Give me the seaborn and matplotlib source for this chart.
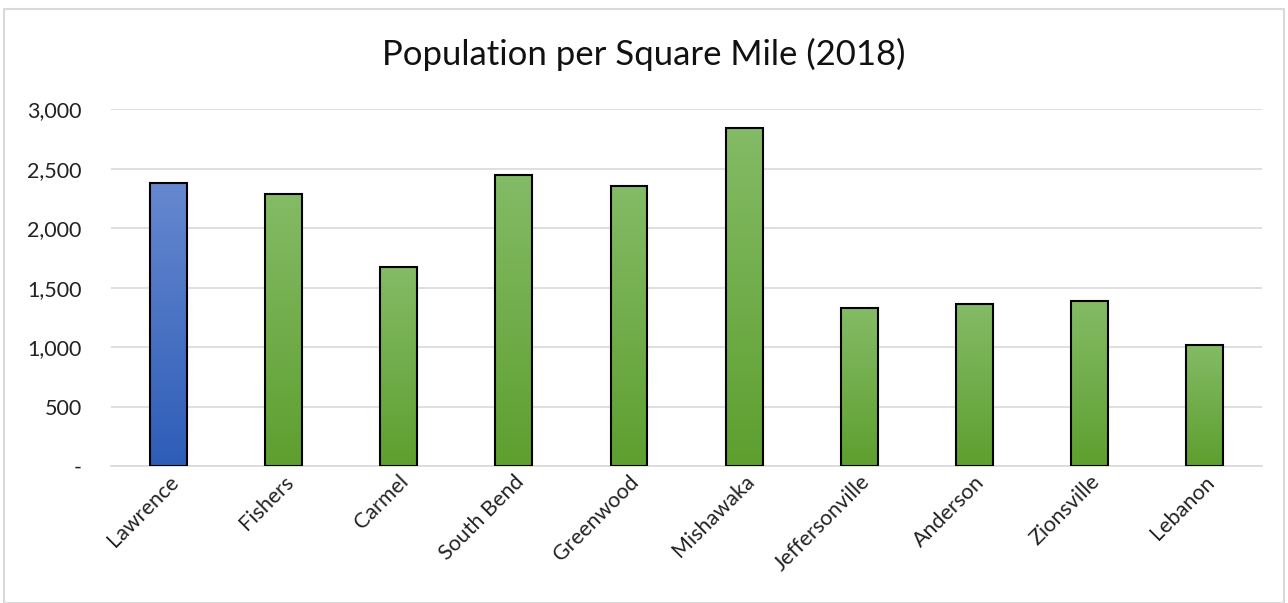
import matplotlib
matplotlib.use("Agg")
import matplotlib.pyplot as plt
import matplotlib.ticker as mticker
from matplotlib.patches import Rectangle
import numpy as np
import pandas as pd
import seaborn as sns

cities = ["Lawrence", "Fishers", "Carmel", "South Bend", "Greenwood",
          "Mishawaka", "Jeffersonville", "Anderson", "Zionsville", "Lebanon"]
density = [2380, 2290, 1672, 2445, 2353, 2843, 1325, 1364, 1387, 1019]
highlight = ["Lawrence"]

green_top, green_bottom = "#84BB66", "#5E9F2F"
blue_top, blue_bottom = "#6688CF", "#2E5DB8"


def yfmt(v, pos):
    if abs(v) < 1e-9:
        return "-"
    return "{:,.0f}".format(v)


def main():
    sns.set_style("white")
    plt.rcParams["font.family"] = ["Lato", "DejaVu Sans"]

    df = pd.DataFrame({"city": cities, "density": density})

    fig = plt.figure(figsize=(12.88, 6.03), dpi=100)
    ax = fig.add_axes([0.086, 0.227, 0.894, 0.592])

    sns.barplot(data=df, x="city", y="density", ax=ax, width=0.32,
                color=green_bottom, edgecolor="black", linewidth=1.5,
                saturation=1)

    ax.set_ylim(0, 3000)
    xlim = ax.get_xlim()

    # gradient fills clipped to each bar
    grad = np.linspace(0, 1, 256).reshape(-1, 1)
    for patch, city in zip(ax.patches, cities):
        x0, y0 = patch.get_x(), patch.get_y()
        w, h = patch.get_width(), patch.get_height()
        if city in highlight:
            c_top, c_bot = blue_top, blue_bottom
        else:
            c_top, c_bot = green_top, green_bottom
        ct = np.array(matplotlib.colors.to_rgb(c_top))
        cb = np.array(matplotlib.colors.to_rgb(c_bot))
        img = ct[None, None, :] * (1 - grad[:, :, None]) + cb[None, None, :] * grad[:, :, None]
        im = ax.imshow(img, extent=[x0, x0 + w, y0, y0 + h], origin="upper",
                       aspect="auto", zorder=2)
        im.set_clip_path(patch)
        patch.set_facecolor("none")
        patch.set_zorder(3)

    ax.set_xlim(xlim)
    ax.set_ylim(0, 3000)

    ax.yaxis.set_major_locator(mticker.MultipleLocator(500))
    ax.yaxis.set_major_formatter(mticker.FuncFormatter(yfmt))
    ax.grid(axis="y", color="#D9D9D9", linewidth=1.2, zorder=0)
    ax.set_axisbelow(True)
    for side in ["top", "right", "left"]:
        ax.spines[side].set_visible(False)
    ax.spines["bottom"].set_color("#D9D9D9")
    ax.spines["bottom"].set_linewidth(1.2)

    ax.set_xlabel("")
    ax.set_ylabel("")
    ax.tick_params(axis="both", length=0, labelsize=15.5, colors="#222222")
    ax.tick_params(axis="y", pad=21)
    ax.tick_params(axis="x", pad=4)
    plt.setp(ax.get_xticklabels(), rotation=45, ha="right",
             rotation_mode="anchor")

    fig.text(0.5, 0.91, "Population per Square Mile (2018)", ha="center",
             va="center", fontsize=25, color="#111111")

    fig.patches.append(Rectangle((0.003, 0.0), 0.994, 0.985,
                                 transform=fig.transFigure, fill=False,
                                 edgecolor="#D9D9D9", linewidth=1.5))

    fig.savefig("out.png", dpi=100)


if __name__ == "__main__":
    main()
